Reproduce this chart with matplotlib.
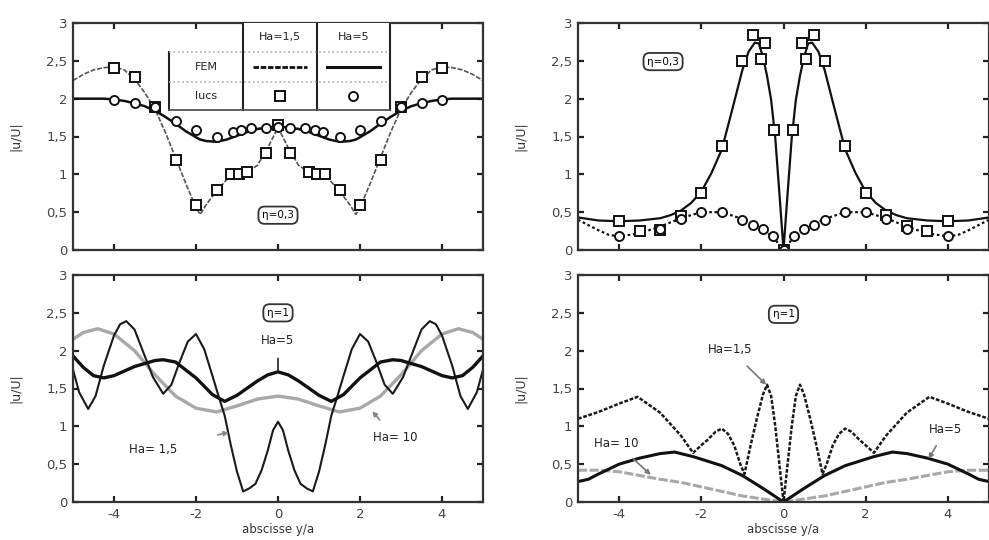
import matplotlib
matplotlib.use("Agg")
import matplotlib.pyplot as plt
import numpy as np

# ---------------- data ----------------
# Top-left (eta=0,3): FEM curves
tl_x = [-5, -4.75, -4.5, -4.25, -4, -3.75, -3.5, -3.25, -3, -2.75, -2.5, -2.25, -2, -1.9, -1.75, -1.5, -1.25, -1,
        -0.75, -0.5, -0.25, 0, 0.25, 0.5, 0.75, 1, 1.25, 1.5, 1.75, 1.9, 2, 2.25, 2.5, 2.75, 3, 3.25, 3.5, 3.75,
        4, 4.25, 4.5, 4.75, 5]
tl_ha15 = [2.24, 2.32, 2.38, 2.41, 2.42, 2.38, 2.26, 2.08, 1.86, 1.56, 1.22, 0.88, 0.56, 0.47, 0.60, 0.78, 0.93,
           1.00, 1.03, 1.12, 1.35, 1.62, 1.35, 1.12, 1.03, 1.00, 0.93, 0.78, 0.60, 0.47, 0.56, 0.88, 1.22, 1.56,
           1.86, 2.08, 2.26, 2.38, 2.42, 2.41, 2.38, 2.32, 2.24]
tl_ha5 = [2.00, 2.00, 2.00, 2.00, 1.99, 1.97, 1.94, 1.90, 1.84, 1.76, 1.67, 1.57, 1.49, 1.46, 1.44, 1.43, 1.46,
          1.51, 1.56, 1.60, 1.62, 1.63, 1.62, 1.60, 1.56, 1.51, 1.46, 1.43, 1.44, 1.46, 1.49, 1.57, 1.67, 1.76,
          1.84, 1.90, 1.94, 1.97, 1.99, 2.00, 2.00, 2.00, 2.00]
tl_sq_x = [-4, -3.5, -3, -2.5, -2, -1.5, -1.15, -0.95, -0.75, -0.3, 0, 0.3, 0.75, 0.95, 1.15, 1.5, 2, 2.5, 3, 3.5, 4]
tl_sq_y = [2.40, 2.28, 1.89, 1.19, 0.60, 0.79, 1.01, 1.01, 1.03, 1.28, 1.65, 1.28, 1.03, 1.01, 1.01, 0.79, 0.60,
           1.19, 1.89, 2.28, 2.40]
tl_ci_x = [-4, -3.5, -3, -2.5, -2, -1.5, -1.1, -0.9, -0.65, -0.3, 0, 0.3, 0.65, 0.9, 1.1, 1.5, 2, 2.5, 3, 3.5, 4]
tl_ci_y = [1.98, 1.94, 1.89, 1.70, 1.59, 1.50, 1.56, 1.59, 1.61, 1.61, 1.63, 1.61, 1.61, 1.59, 1.56, 1.50, 1.59,
           1.70, 1.89, 1.94, 1.98]

# Top-right (eta=0,3)
tr_x = [-5, -4.5, -4, -3.5, -3, -2.75, -2.5, -2.25, -2, -1.75, -1.5, -1.25, -1, -0.85, -0.7, -0.6, -0.5, -0.4,
        -0.3, -0.2, -0.1, 0, 0.1, 0.2, 0.3, 0.4, 0.5, 0.6, 0.7, 0.85, 1, 1.25, 1.5, 1.75, 2, 2.25, 2.5, 2.75, 3,
        3.5, 4, 4.5, 5]
tr_solid = [0.43, 0.39, 0.38, 0.39, 0.42, 0.46, 0.52, 0.62, 0.77, 1.02, 1.33, 1.85, 2.38, 2.62, 2.74, 2.73,
            2.55, 2.30, 1.98, 1.48, 0.75, 0.0, 0.75, 1.48, 1.98, 2.30, 2.55, 2.73, 2.74, 2.62, 2.38, 1.85, 1.33,
            1.02, 0.77, 0.62, 0.52, 0.46, 0.42, 0.39, 0.38, 0.39, 0.43]
tr_dx = [-5, -4.5, -4.25, -4, -3.5, -3, -2.5, -2, -1.5, -1, -0.75, -0.5, -0.25, 0, 0.25, 0.5, 0.75, 1, 1.5, 2,
         2.5, 3, 3.5, 4, 4.25, 4.5, 5]
tr_dotted = [0.40, 0.26, 0.20, 0.18, 0.22, 0.31, 0.42, 0.50, 0.50, 0.41, 0.34, 0.27, 0.17, 0.0, 0.17, 0.27,
             0.34, 0.41, 0.50, 0.50, 0.42, 0.31, 0.22, 0.18, 0.20, 0.26, 0.40]
tr_sq_x = [-4, -3.5, -3, -2.5, -2, -1.5, -1, -0.75, -0.55, -0.45, -0.22, 0, 0.22, 0.45, 0.55, 0.75, 1, 1.5, 2,
           2.5, 3, 3.5, 4]
tr_sq_y = [0.38, 0.25, 0.27, 0.45, 0.75, 1.37, 2.50, 2.84, 2.53, 2.74, 1.59, 0.0, 1.59, 2.74, 2.53, 2.84, 2.50,
           1.37, 0.75, 0.46, 0.32, 0.25, 0.38]
tr_ci_x = [-4, -3, -2.5, -2, -1.5, -1, -0.75, -0.5, -0.25, 0, 0.25, 0.5, 0.75, 1, 1.5, 2, 2.5, 3, 4]
tr_ci_y = [0.18, 0.28, 0.41, 0.50, 0.50, 0.39, 0.33, 0.28, 0.18, 0.0, 0.18, 0.28, 0.33, 0.39, 0.50, 0.50, 0.41,
           0.28, 0.18]

# Bottom-left (eta=1)
bl_x15 = [-5, -4.85, -4.63, -4.45, -4.25, -4.0, -3.85, -3.7, -3.5, -3.3, -3.05, -2.8, -2.6, -2.4, -2.2, -2.0,
          -1.8, -1.6, -1.45, -1.3, -1.15, -1.0, -0.85, -0.7, -0.55, -0.4, -0.25, -0.12, 0,
          0.12, 0.25, 0.4, 0.55, 0.7, 0.85, 1.0, 1.15, 1.3, 1.45, 1.6, 1.8, 2.0, 2.2, 2.4, 2.6, 2.8, 3.05, 3.3,
          3.5, 3.7, 3.85, 4.0, 4.25, 4.45, 4.63, 4.85, 5]
bl_ha15 = [1.75, 1.45, 1.23, 1.40, 1.80, 2.20, 2.35, 2.39, 2.28, 2.00, 1.65, 1.43, 1.55, 1.85, 2.12, 2.22,
           2.02, 1.67, 1.40, 1.14, 0.75, 0.40, 0.14, 0.18, 0.24, 0.42, 0.68, 0.95, 1.06,
           0.95, 0.68, 0.42, 0.24, 0.18, 0.14, 0.40, 0.75, 1.14, 1.40, 1.67, 2.02, 2.22, 2.12, 1.85, 1.55, 1.43,
           1.65, 2.00, 2.28, 2.39, 2.35, 2.20, 1.80, 1.40, 1.23, 1.45, 1.75]
bl_x5 = [-5, -4.75, -4.5, -4.25, -4, -3.5, -3, -2.8, -2.5, -2, -1.6, -1.3, -1, -0.5, -0.25, 0,
         0.25, 0.5, 1, 1.3, 1.6, 2, 2.5, 2.8, 3, 3.5, 4, 4.25, 4.5, 4.75, 5]
bl_ha5 = [1.93, 1.78, 1.67, 1.64, 1.67, 1.79, 1.87, 1.88, 1.85, 1.64, 1.42, 1.33, 1.41, 1.60, 1.68, 1.72,
          1.68, 1.60, 1.41, 1.33, 1.42, 1.64, 1.85, 1.88, 1.87, 1.79, 1.67, 1.64, 1.67, 1.78, 1.93]
bl_x10 = [-5, -4.75, -4.4, -4, -3.5, -3, -2.5, -2, -1.5, -1, -0.5, 0, 0.5, 1, 1.5, 2, 2.5, 3, 3.5, 4, 4.4,
          4.75, 5]
bl_ha10 = [2.15, 2.24, 2.29, 2.22, 2.00, 1.68, 1.40, 1.24, 1.19, 1.27, 1.36, 1.40, 1.36, 1.27, 1.19, 1.24,
           1.40, 1.68, 2.00, 2.22, 2.29, 2.24, 2.15]

# Bottom-right (eta=1)
br_x15 = [-5, -4.5, -4, -3.55, -3, -2.5, -2.2, -2.0, -1.85, -1.65, -1.5, -1.35, -1.2, -1.05, -0.95, -0.8, -0.65,
          -0.5, -0.4, -0.3, -0.2, -0.1, 0, 0.1, 0.2, 0.3, 0.4, 0.5, 0.65, 0.8, 0.95, 1.05, 1.2, 1.35, 1.5, 1.65,
          1.85, 2.0, 2.2, 2.5, 3, 3.55, 4, 4.5, 5]
br_ha15 = [1.10, 1.19, 1.30, 1.39, 1.18, 0.88, 0.65, 0.75, 0.82, 0.93, 0.97, 0.90, 0.75, 0.50, 0.37, 0.75, 1.10,
           1.42, 1.55, 1.40, 1.00, 0.50, 0.0, 0.50, 1.00, 1.40, 1.55, 1.42, 1.10, 0.75, 0.37, 0.50, 0.75, 0.90,
           0.97, 0.93, 0.82, 0.75, 0.65, 0.88, 1.18, 1.39, 1.30, 1.19, 1.10]
br_x5 = [-5, -4.75, -4.5, -4, -3.5, -3, -2.65, -2.2, -1.5, -1, -0.5, 0, 0.5, 1, 1.5, 2.2, 2.65, 3, 3.5, 4, 4.5,
         4.75, 5]
br_ha5 = [0.27, 0.30, 0.37, 0.50, 0.58, 0.64, 0.66, 0.60, 0.48, 0.35, 0.18, 0.0, 0.18, 0.35, 0.48, 0.60, 0.66,
          0.64, 0.58, 0.50, 0.37, 0.30, 0.27]
br_x10 = [-5, -4.5, -4, -3.5, -3, -2.5, -2, -1.5, -1, -0.5, 0, 0.5, 1, 1.5, 2, 2.5, 3, 3.5, 4, 4.5, 5]
br_ha10 = [0.42, 0.42, 0.40, 0.35, 0.30, 0.26, 0.20, 0.14, 0.08, 0.04, 0.0, 0.04, 0.08, 0.14, 0.20, 0.26,
           0.30, 0.35, 0.40, 0.42, 0.42]

xticks = [-4, -2, 0, 2, 4]
yticks = [0, 0.5, 1, 1.5, 2, 2.5, 3]
ytick_labels = ["0", "0,5", "1", "1,5", "2", "2,5", "3"]
xtick_labels = ["-4", "-2", "0", "2", "4"]
ylabel = "|u/U|"
xlabel = "abscisse y/a"

# ---------------- figure ----------------
plt.rcParams['font.family'] = ['DejaVu Sans']
fig = plt.figure(figsize=(9.89, 5.40), dpi=100)

L1, L2 = 73 / 989, 578 / 989
W1, W2 = 410 / 989, 411 / 989
B_top, B_bot = 1 - 250 / 540, 1 - 502 / 540
H = 227 / 540

ax_tl = fig.add_axes([L1, B_top, W1, H])
ax_tr = fig.add_axes([L2, B_top, W2, H])
ax_bl = fig.add_axes([L1, B_bot, W1, H])
ax_br = fig.add_axes([L2, B_bot, W2, H])

GRAY = '#a8a8a8'
DK = '#222222'


def style(ax, bottom_labels):
    ax.set_xlim(-5, 5)
    ax.set_ylim(0, 3)
    ax.set_xticks(xticks)
    ax.set_yticks(yticks)
    ax.set_yticklabels(ytick_labels)
    if bottom_labels:
        ax.set_xticklabels(xtick_labels)
        ax.set_xlabel(xlabel, fontsize=8.5, color='#333333', labelpad=2)
    else:
        ax.set_xticklabels([])
    ax.tick_params(direction='in', top=True, right=True, length=4, width=1.6,
                   labelsize=9.5, colors='#222222', labelcolor='#444444', pad=4)
    ax.set_ylabel(ylabel, fontsize=9, color='#333333')
    ax.yaxis.set_label_coords(-0.125, 0.5)
    for s in ax.spines.values():
        s.set_linewidth(1.6)
        s.set_color('#333333')


mk = dict(mfc='white', mec='#111111', mew=1.4, ms=6.5, ls='none')

# --- top-left ---
ax = ax_tl
ax.plot(tl_x, tl_ha15, color='#555555', lw=1.2, ls=(0, (3, 1)))
ax.plot(tl_x, tl_ha5, color='#111111', lw=1.8)
ax.plot(tl_sq_x, tl_sq_y, marker='s', **mk)
ax.plot(tl_ci_x, tl_ci_y, marker='o', **mk)
# table-style legend
cx = [-2.66, -0.85, 0.95, 2.73]
ry = [3.0, 2.62, 2.22, 1.85]
ax.fill_between([cx[0], cx[3]], ry[3], ry[1], color='white', zorder=3)
ax.fill_between([cx[1], cx[3]], ry[1], ry[0], color='white', zorder=3)
ax.plot([cx[0], cx[0]], [ry[3], ry[1]], color='#222222', lw=1.5, zorder=4)
for c in cx[1:]:
    ax.plot([c, c], [ry[3], ry[0]], color='#222222', lw=1.5, zorder=4)
ax.plot([cx[0], cx[3]], [ry[1], ry[1]], color='#aaaaaa', lw=1.2, ls=':', zorder=4)
ax.plot([cx[0], cx[3]], [ry[2], ry[2]], color='#aaaaaa', lw=1.2, ls=':', zorder=4)
ax.plot([cx[0], cx[3]], [ry[3], ry[3]], color='#555555', lw=1.3, zorder=4)
tkw = dict(ha='center', va='center', fontsize=8, color='#222222', zorder=5)
ax.text((cx[1] + cx[2]) / 2, (ry[0] + ry[1]) / 2, "Ha=1,5", **tkw)
ax.text((cx[2] + cx[3]) / 2, (ry[0] + ry[1]) / 2, "Ha=5", **tkw)
ax.text((cx[0] + cx[1]) / 2, (ry[1] + ry[2]) / 2, "FEM", **tkw)
ax.text((cx[0] + cx[1]) / 2, (ry[2] + ry[3]) / 2, "lucs", **tkw)
ax.plot([cx[1] + 0.25, cx[2] - 0.25], [(ry[1] + ry[2]) / 2] * 2, color='#111111', lw=2, ls=(0, (2, 0.6)), zorder=5)
ax.plot([cx[2] + 0.25, cx[3] - 0.25], [(ry[1] + ry[2]) / 2] * 2, color='#111111', lw=2.2, zorder=5)
ax.plot([(cx[1] + cx[2]) / 2], [(ry[2] + ry[3]) / 2], marker='s', zorder=5, **mk)
ax.plot([(cx[2] + cx[3]) / 2], [(ry[2] + ry[3]) / 2], marker='o', zorder=5, **mk)
bbox = dict(boxstyle='round,pad=0.35,rounding_size=0.6', fc='white', ec='#333333', lw=1.3)
ax.text(0, 0.46, "η=0,3", ha='center', va='center', fontsize=7.5, bbox=bbox)
style(ax, False)

# --- top-right ---
ax = ax_tr
ax.plot(tr_x, tr_solid, color='#111111', lw=1.6)
ax.plot(tr_dx, tr_dotted, color='#111111', lw=1.6, ls=(0, (1.2, 1.2)))
ax.plot(tr_sq_x, tr_sq_y, marker='s', **mk)
ax.plot(tr_ci_x, tr_ci_y, marker='o', **mk)
ax.text(-2.93, 2.49, "η=0,3", ha='center', va='center', fontsize=7.5, bbox=bbox)
style(ax, False)

# --- bottom-left ---
ax = ax_bl
ax.plot(bl_x10, bl_ha10, color=GRAY, lw=2.4)
ax.plot(bl_x15, bl_ha15, color='#1a1a1a', lw=1.5)
ax.plot(bl_x5, bl_ha5, color='#111111', lw=2.4)
ax.text(0, 2.5, "η=1", ha='center', va='center', fontsize=7.5, bbox=bbox)
akw = dict(fontsize=8.5, color='#222222', ha='center', va='center')
ax.annotate("Ha=5", xy=(0, 1.74), xytext=(0, 2.13),
            arrowprops=dict(arrowstyle='-', color='#222222', lw=1.2, shrinkA=6, shrinkB=0), **akw)
ax.annotate("Ha= 1,5", xy=(-1.2, 0.92), xytext=(-3.05, 0.69),
            arrowprops=dict(arrowstyle='-|>', color='#888888', lw=1.2, shrinkA=28, shrinkB=0,
                            mutation_scale=7), **akw)
ax.annotate("Ha= 10", xy=(2.3, 1.2), xytext=(2.85, 0.85),
            arrowprops=dict(arrowstyle='-|>', color='#888888', lw=1.2, shrinkA=8, shrinkB=0,
                            mutation_scale=7), **akw)
style(ax, True)

# --- bottom-right ---
ax = ax_br
ax.plot(br_x10, br_ha10, color=GRAY, lw=2.2, ls=(0, (3, 0.8)))
ax.plot(br_x15, br_ha15, color='#1a1a1a', lw=1.8, ls=(0, (1.5, 0.7)))
ax.plot(br_x5, br_ha5, color='#111111', lw=2.2)
ax.text(0, 2.48, "η=1", ha='center', va='center', fontsize=7.5, bbox=bbox)
ax.annotate("Ha=1,5", xy=(-0.42, 1.55), xytext=(-1.31, 2.02),
            arrowprops=dict(arrowstyle='-|>', color='#777777', lw=1.2, shrinkA=8, shrinkB=0,
                            mutation_scale=7), **akw)
ax.annotate("Ha= 10", xy=(-3.23, 0.36), xytext=(-4.06, 0.77),
            arrowprops=dict(arrowstyle='-|>', color='#777777', lw=1.2, shrinkA=6, shrinkB=0,
                            mutation_scale=7), **akw)
ax.annotate("Ha=5", xy=(3.53, 0.57), xytext=(3.95, 0.96),
            arrowprops=dict(arrowstyle='-|>', color='#777777', lw=1.2, shrinkA=6, shrinkB=0,
                            mutation_scale=7), **akw)
style(ax, True)

fig.savefig("out.png", dpi=100)
